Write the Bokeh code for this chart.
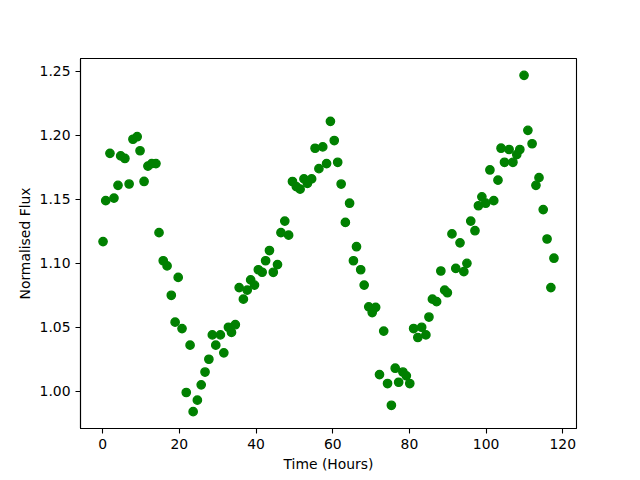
from bokeh.plotting import figure
from bokeh.models import Range1d, FixedTicker, NumeralTickFormatter
from bokeh.embed import file_html
from bokeh.resources import INLINE

time_hours = [0.1, 0.8, 1.9, 2.95, 4.0, 4.7, 5.8, 6.9, 7.9, 9.0,
              9.75, 10.8, 11.8, 12.8, 13.9, 14.7, 15.8, 16.8, 17.9, 18.9,
              19.7, 20.7, 21.8, 22.8, 23.6, 24.7, 25.7, 26.7, 27.7, 28.6,
              29.5, 30.7, 31.6, 32.8, 33.6, 34.6, 35.6, 36.7, 37.7, 38.6,
              39.6, 40.6, 41.6, 42.5, 43.5, 44.5, 45.6, 46.5, 47.5, 48.5,
              49.5, 50.5, 51.5, 52.5, 53.4, 54.5, 55.4, 56.4, 57.4, 58.4,
              59.4, 60.4, 61.3, 62.2, 63.3, 64.4, 65.4, 66.2, 67.3, 68.2,
              69.4, 70.3, 71.2, 72.2, 73.3, 74.3, 75.3, 76.3, 77.2, 78.3,
              79.2, 80.1, 81.1, 82.2, 83.2, 84.3, 85.1, 86.0, 87.1, 88.2,
              89.2, 89.9, 91.1, 92.1, 93.2, 94.2, 95.0, 96.0, 97.1, 98.0,
              98.9, 99.9, 101.0, 102.0, 103.1, 103.9, 104.8, 106.0, 107.0, 108.0,
              108.8, 109.9, 110.9, 112.0, 113.0, 113.8, 114.9, 115.9, 116.9, 117.7]

flux = [1.117, 1.149, 1.186, 1.151, 1.161, 1.184, 1.182, 1.162, 1.197, 1.199,
        1.188, 1.164, 1.176, 1.178, 1.178, 1.124, 1.102, 1.098, 1.075, 1.054,
        1.089, 1.049, 0.999, 1.036, 0.984, 0.993, 1.005, 1.015, 1.025, 1.044,
        1.036, 1.044, 1.030, 1.050, 1.046, 1.052, 1.081, 1.072, 1.079, 1.087,
        1.083, 1.095, 1.093, 1.102, 1.110, 1.093, 1.099, 1.124, 1.133, 1.122,
        1.164, 1.160, 1.158, 1.166, 1.1625, 1.166, 1.190, 1.174, 1.191, 1.178,
        1.211, 1.196, 1.179, 1.162, 1.132, 1.147, 1.102, 1.113, 1.095, 1.083,
        1.066, 1.0615, 1.0656, 1.013, 1.047, 1.006, 0.989, 1.018, 1.007, 1.015,
        1.012, 1.006, 1.049, 1.042, 1.050, 1.044, 1.058, 1.072, 1.070, 1.094,
        1.079, 1.077, 1.123, 1.096, 1.116, 1.0935, 1.100, 1.133, 1.1255, 1.145,
        1.152, 1.147, 1.173, 1.149, 1.165, 1.190, 1.179, 1.189, 1.179, 1.185,
        1.189, 1.247, 1.204, 1.1935, 1.161, 1.167, 1.142, 1.119, 1.081, 1.104]

x_ticks = [0, 20, 40, 60, 80, 100, 120]
y_ticks = [1.00, 1.05, 1.10, 1.15, 1.20, 1.25]

xmin, xmax = min(time_hours), max(time_hours)
ymin, ymax = min(flux), max(flux)
xpad = 0.05 * (xmax - xmin)
ypad = 0.05 * (ymax - ymin)

p = figure(width=632, height=472, frame_width=496, frame_height=370,
           min_border_left=80, min_border_right=56, min_border_top=58, min_border_bottom=44,
           x_range=Range1d(xmin - xpad, xmax + xpad),
           y_range=Range1d(ymin - ypad, ymax + ypad),
           output_backend="svg", toolbar_location=None)

p.scatter(time_hours, flux, size=8.3, fill_color="green", line_color="green", line_width=1.4)

p.xgrid.visible = False
p.ygrid.visible = False
p.outline_line_color = "black"
p.outline_line_width = 1.1
p.background_fill_color = "white"
p.border_fill_color = "white"

p.xaxis.ticker = FixedTicker(ticks=x_ticks)
p.yaxis.ticker = FixedTicker(ticks=y_ticks)
p.yaxis.formatter = NumeralTickFormatter(format="0.00")
p.xaxis.axis_label = "Time (Hours)"
p.yaxis.axis_label = "Normalised Flux"

for ax in (p.xaxis[0], p.yaxis[0]):
    ax.major_tick_out = 5
    ax.major_tick_in = 0
    ax.minor_tick_out = 0
    ax.minor_tick_in = 0
    ax.major_tick_line_width = 1.1
    ax.major_tick_line_color = "black"
    ax.axis_line_color = "black"
    ax.axis_line_width = 1.1
    ax.major_label_text_font = "DejaVu Sans"
    ax.major_label_text_font_size = "13.9px"
    ax.major_label_text_color = "black"
    ax.major_label_standoff = 5
    ax.axis_label_text_font = "DejaVu Sans"
    ax.axis_label_text_font_size = "13.9px"
    ax.axis_label_text_font_style = "normal"
    ax.axis_label_text_color = "black"
    ax.axis_label_standoff = 4

open("out.html", "w").write(file_html(p, INLINE))
